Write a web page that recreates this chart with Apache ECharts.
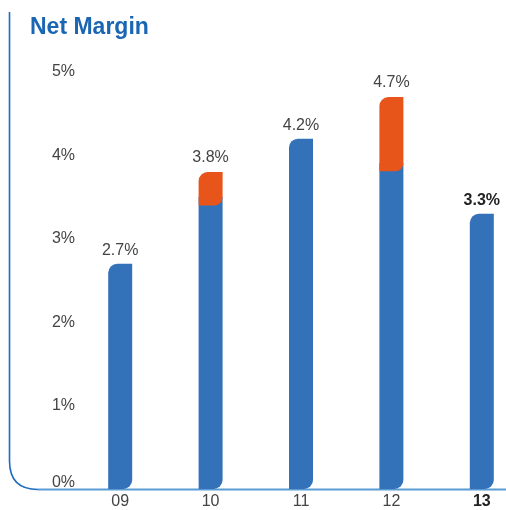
<!DOCTYPE html>
<html><head><meta charset="utf-8">
<style>html,body{margin:0;padding:0;background:#fff}#c{width:506px;height:510px}</style>
<script src="https://cdn.jsdelivr.net/npm/echarts@6/dist/echarts.min.js"></script>
</head><body><div id="c"></div>
<script>
var categories = ['09', '10', '11', '12', '13'];
var totalMargin = [2.7, 3.8, 4.2, 4.7, 3.3];
var baseMargin = [2.7, 3.4, 4.2, 3.81, 3.3];
var yTicks = ['0%', '1%', '2%', '3%', '4%', '5%'];

var BLUE = '#3372b9', ORANGE = '#e8551b';
var FONT = 'Liberation Sans, Arial, sans-serif';
var lastIdx = categories.length - 1;

var blueData = baseMargin.map(function (v, i) {
  var hasTop = totalMargin[i] > v;
  return {
    value: hasTop ? v + 0.1 : v,
    itemStyle: { borderRadius: hasTop ? [0, 0, 9, 0] : [9, 0, 9, 0] },
    label: {
      show: !hasTop,
      fontWeight: i === lastIdx ? 'bold' : 'normal',
      color: i === lastIdx ? '#222' : '#444'
    }
  };
});
var invisBase = baseMargin.map(function (v, i) { return totalMargin[i] > v ? v : '-'; });
var orangeData = baseMargin.map(function (v, i) {
  return totalMargin[i] > v ? +(totalMargin[i] - v).toFixed(3) : '-';
});

var chart = echarts.init(document.getElementById('c'));
chart.setOption({
  animation: false,
  title: {
    text: 'Net Margin', left: 25, top: 11,
    textStyle: { color: '#1a66b3', fontSize: 23, fontWeight: 'bold', fontFamily: FONT }
  },
  grid: { left: 75, width: 452, top: 72, bottom: 21, outerBoundsMode: 'none', containLabel: false },
  xAxis: {
    type: 'category', data: categories,
    axisLine: { show: false }, axisTick: { show: false },
    axisLabel: {
      margin: 5, fontSize: 16, fontFamily: FONT, color: '#444',
      formatter: function (v, i) { return i === lastIdx ? '{b|' + v + '}' : v; },
      rich: { b: { fontWeight: 'bold', color: '#222', fontSize: 16, fontFamily: FONT } }
    }
  },
  yAxis: {
    type: 'value', min: 0, max: 5, interval: 1,
    splitLine: { show: false }, axisLine: { show: false }, axisTick: { show: false },
    axisLabel: {
      margin: 0, fontSize: 16, fontFamily: FONT, color: '#444',
      formatter: function (v) {
        var t = yTicks[Math.round(v)];
        return v === 0 ? '{z|' + t + '}' : t;
      },
      rich: { z: { fontSize: 16, fontFamily: FONT, color: '#444', padding: [0, 0, 12, 0] } }
    }
  },
  series: [
    {
      type: 'bar', data: blueData, barWidth: 24, barGap: '-100%',
      itemStyle: { color: BLUE },
      label: {
        position: 'top', distance: 5, fontSize: 16, fontFamily: FONT,
        formatter: function (p) { return totalMargin[p.dataIndex].toFixed(1) + '%'; }
      }
    },
    {
      type: 'bar', data: invisBase, stack: 'top', barWidth: 24,
      itemStyle: { color: 'transparent' }, silent: true
    },
    {
      type: 'bar', data: orangeData, stack: 'top', barWidth: 24,
      itemStyle: { color: ORANGE, borderRadius: [9, 0, 8, 0] },
      label: {
        show: true, position: 'top', distance: 6, fontSize: 16, fontFamily: FONT, color: '#444',
        formatter: function (p) { return totalMargin[p.dataIndex].toFixed(1) + '%'; }
      }
    }
  ],
  graphic: [
    {
      type: 'line', silent: true,
      shape: { x1: 9.5, y1: 12, x2: 9.5, y2: 461 },
      style: { stroke: '#1c6cc0', lineWidth: 1.6 }
    },
    {
      type: 'bezierCurve', silent: true,
      shape: { x1: 9.5, y1: 461, cpx1: 9.5, cpy1: 489.5, x2: 38, y2: 489.5 },
      style: { fill: null, stroke: '#1c6cc0', lineWidth: 1.6 }
    },
    {
      type: 'line', silent: true,
      shape: { x1: 38, y1: 489.5, x2: 506, y2: 489.5 },
      style: { stroke: '#5b9bd3', lineWidth: 2 }
    }
  ]
});
</script></body></html>
